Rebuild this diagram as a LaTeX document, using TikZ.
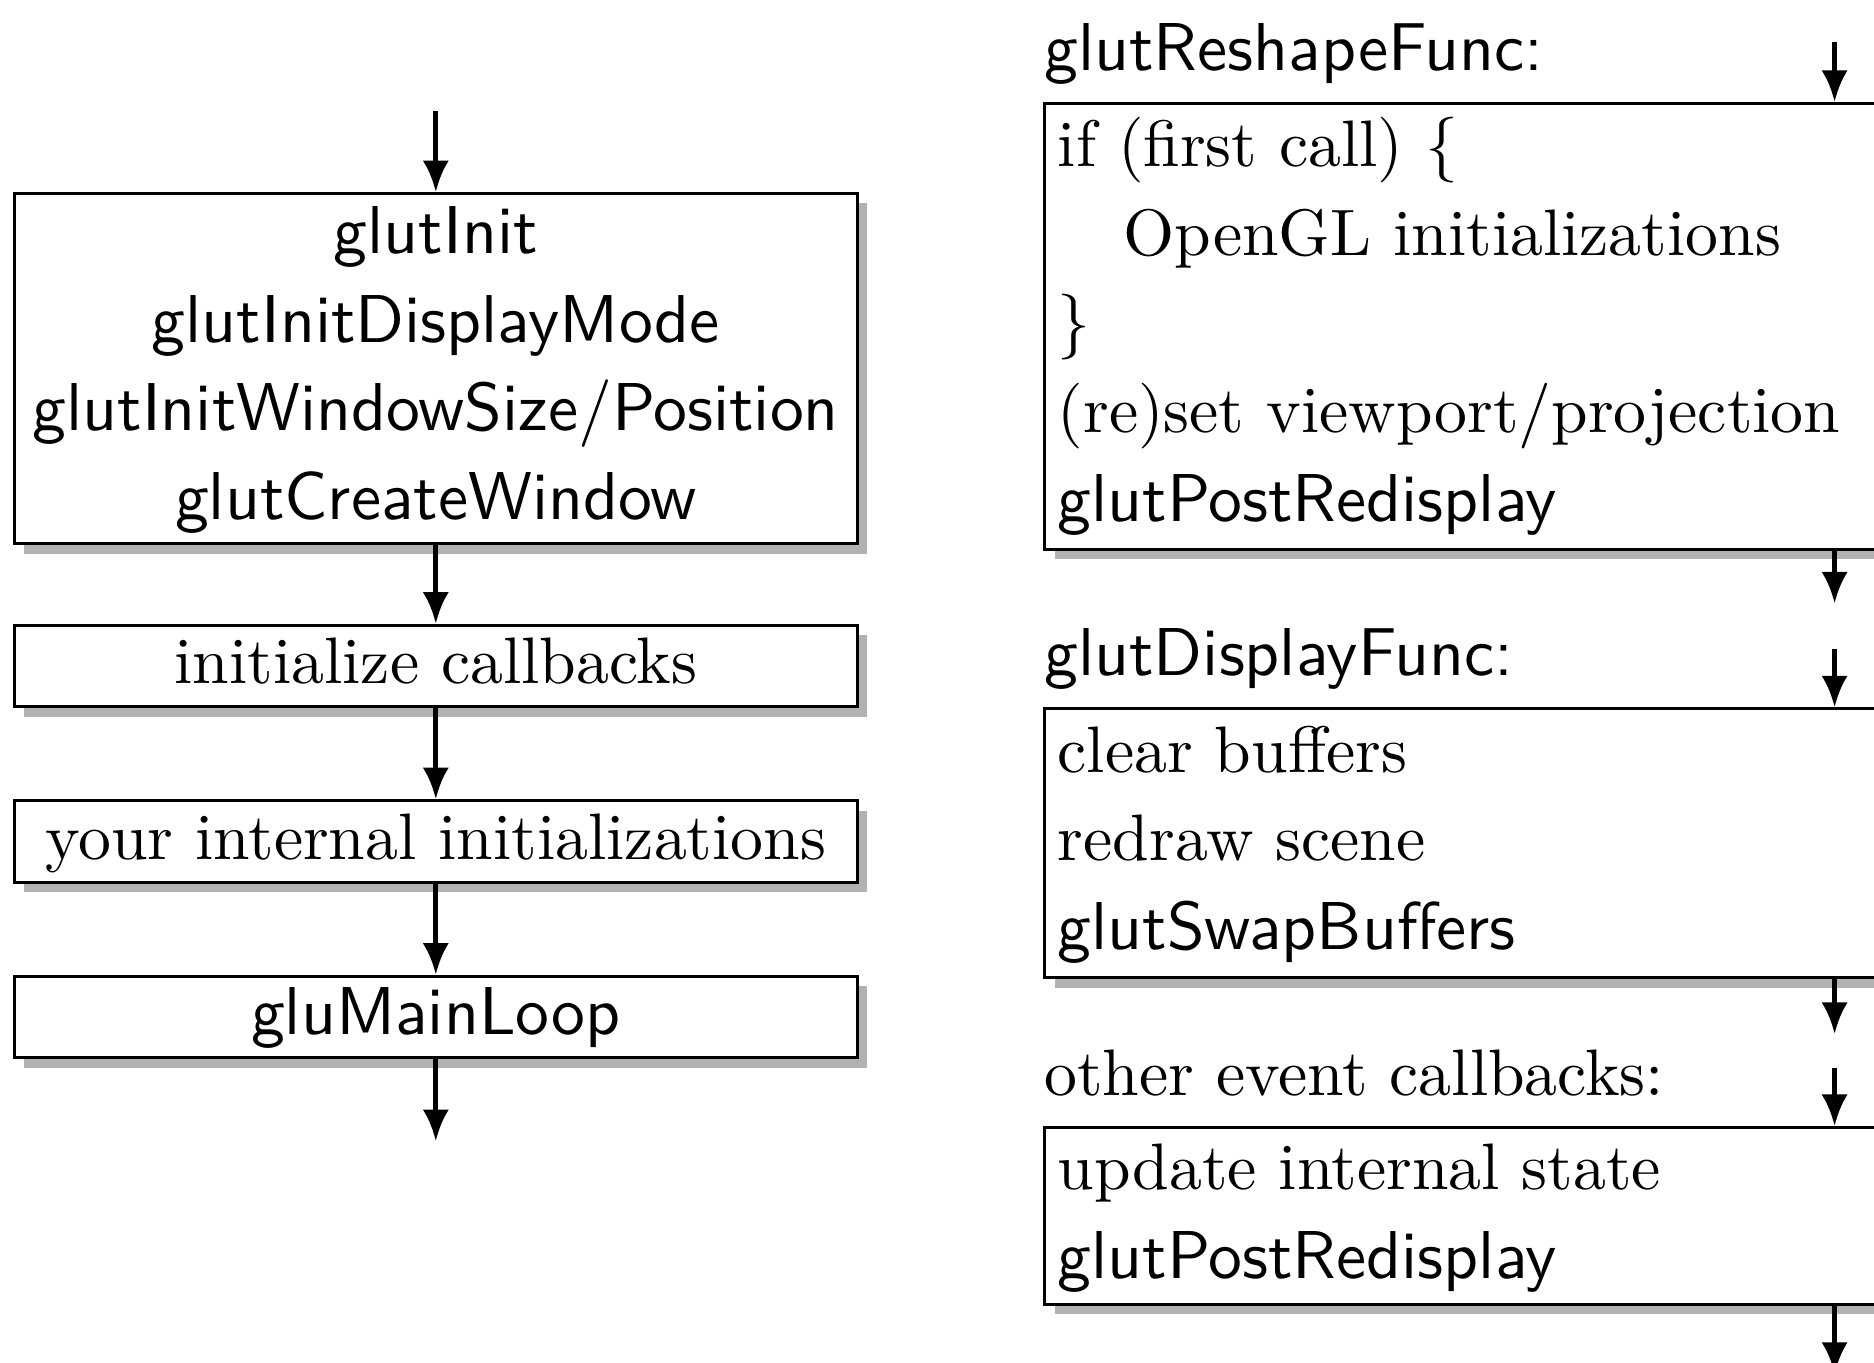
\documentclass[tikz,border=0pt]{standalone}
\usepackage{tikz}
\usetikzlibrary{arrows.meta}
\usetikzlibrary{shadows}

\begin{document}
\begin{tikzpicture}[x=1pt,y=1pt,
    font=\fontsize{10}{13.5}\selectfont,
    glut/.style={font=\fontsize{10.3}{13.5}\selectfont\sffamily},
    box/.style={draw,fill=white,line width=0.45pt,inner xsep=2.7pt,inner ysep=-1pt,
        drop shadow={shadow xshift=1.5pt,shadow yshift=-1.5pt,fill=black!30,opacity=1}},
    mainbox/.style={box,minimum width=128.2pt,align=center},
    cbbox/.style={box,anchor=north west,text width=137.3pt,inner xsep=2pt,align=left},
    cblabel/.style={anchor=west,inner sep=0pt},
    flow/.style={line width=0.8pt,-{Latex[length=4.8pt,width=4pt]}}
                ]
            \useasboundingbox (0,0) rectangle (285.1,-207.3);
            \clip (0,0) rectangle (285.1,-207.3);

            % main program
            \node[mainbox,glut,minimum height=53.3pt] (init) at (66.3,-56.1)
                {\strut glutInit\\\strut glutInitDisplayMode\\\strut glutInitWindowSize/Position\\\strut glutCreateWindow};
            \node[mainbox,minimum height=12.4pt] (callbacks) at (66.3,-101.3) {\strut initialize callbacks};
            \node[mainbox,minimum height=12.4pt] (internal) at (66.3,-128.0) {\strut your internal initializations};
            \node[mainbox,glut,minimum height=12.4pt] (mainloop) at (66.3,-154.7) {\strut gluMainLoop};

            \coordinate (start) at (66.3,-16.9);
            \coordinate (stop) at (66.3,-173.6);

            \draw[flow] (start) to (init);
            \draw[flow] (init) to (callbacks);
            \draw[flow] (callbacks) to (internal);
            \draw[flow] (internal) to (mainloop);
            \draw[flow] (mainloop) to (stop);

            % callbacks
            \node[cblabel,glut] (reshapelbl) at (158.7,-8.2) {glutReshapeFunc:};
            \node[cbbox,minimum height=67.8pt] (reshape) at (158.7,-15.5)
                {\strut if (first call) $\{$\\\strut\quad OpenGL initializations\\\strut $\}$\\\strut (re)set viewport/projection\\\strut\textsf{\fontsize{10.3}{13.5}\selectfont glutPostRedisplay}};

            \node[cblabel,glut] (displaylbl) at (158.7,-100.2) {glutDisplayFunc:};
            \node[cbbox,minimum height=40.9pt] (display) at (158.7,-107.6)
                {\strut clear buffers\\\strut redraw scene\\\strut\textsf{\fontsize{10.3}{13.5}\selectfont glutSwapBuffers}};

            \node[cblabel] (otherlbl) at (158.7,-163.2) {other event callbacks:};
            \node[cbbox,minimum height=26.9pt] (other) at (158.7,-171.3)
                {\strut update internal state\\\strut\textsf{\fontsize{10.3}{13.5}\selectfont glutPostRedisplay}};

            \coordinate (rin1) at (279.1,-6.4);
            \coordinate (rout1) at (279.1,-91.8);
            \coordinate (rin2) at (279.1,-98.7);
            \coordinate (rout2) at (279.1,-157.3);
            \coordinate (rin3) at (279.1,-162.4);
            \coordinate (rout3) at (279.1,-209);

            \draw[flow] (rin1) to (rin1 |- reshape.north);
            \draw[flow] (rin1 |- reshape.south) to (rout1);
            \draw[flow] (rin2) to (rin2 |- display.north);
            \draw[flow] (rin2 |- display.south) to (rout2);
            \draw[flow] (rin3) to (rin3 |- other.north);
            \draw[flow] (rin3 |- other.south) to (rout3);

            \end{tikzpicture}
\end{document}
